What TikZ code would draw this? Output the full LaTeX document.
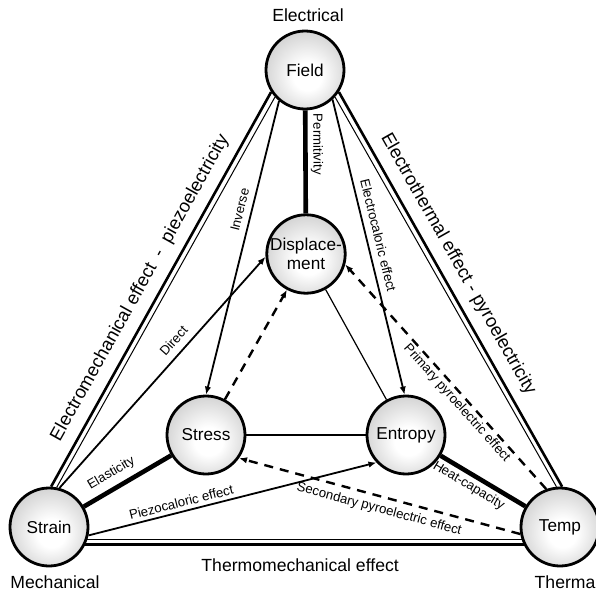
\documentclass[tikz,border=0pt]{standalone}
\usepackage{fontspec}
\setmainfont{Liberation Sans}
\usetikzlibrary{arrows.meta,positioning}
\pgfdeclareradialshading{sphere}{\pgfpoint{2bp}{-5bp}}{color(0bp)=(white);
  color(9bp)=(white); color(50bp)=(black!38)}

\begin{document}
\begin{tikzpicture}[x=0.5pt, y=-0.5pt, >={Latex[length=4pt,width=3.2pt]},
  var/.style={circle, draw, line width=1.4pt, minimum size=39pt, inner sep=0pt,
    shade, shading=sphere, align=center,
    font=\fontsize{8.6}{9.6}\selectfont},
  region/.style={font=\fontsize{8.8}{10}\selectfont, inner sep=1pt},
  rimthick/.style={line width=1.3pt},
  rimthin/.style={line width=0.5pt},
  strong/.style={line width=2.3pt},
  weak/.style={line width=0.6pt},
  link/.style={->, line width=0.9pt},
  pyro/.style={->, line width=1.2pt, dash pattern=on 4.5pt off 3.5pt},
  effect/.style={font=\fontsize{9.2}{11}\selectfont, sloped},
  lbl/.style={font=\fontsize{6.6}{8}\selectfont, sloped, inner sep=1.5pt}]
  \useasboundingbox (0,0) rectangle (596,595);
  \clip (0,0) rectangle (596,595);
  % state variables
  \node[var] (Field) at (305,70) {Field};
  \node[var] (Disp) at (306,254) {Displace-\\ment};
  \node[var] (Stress) at (206,435) {Stress};
  \node[var] (Entropy) at (406,435) {Entropy};
  \node[var] (Strain) at (49,527) {Strain};
  \node[var] (Temp) at (560,527) {Temp};
  \node[region, above=3pt of Field, xshift=1.5pt] (elec) {Electrical};
  \node[region, below=3pt of Strain, xshift=3pt] (mech) {Mechanical};
  \node[region, below=3pt of Temp, xshift=3.5pt] (therm) {Thermal};
  % outer triangle: thick outside, thin inside
  \draw[rimthick] (Strain.87) -- node[effect, above=1.2pt, pos=0.48] (emtext)
    {Electromechanical effect\ \ -\ \ piezoelectricity} (Field.213);
  \draw[rimthin] (Strain.79) -- (Field.222);
  \draw[rimthick] (Field.327) -- node[effect, above=1.2pt, pos=0.46] (ettext)
    {Electrothermal effect - pyroelectricity} (Temp.87);
  \draw[rimthin] (Field.318) -- (Temp.95);
  \draw[rimthin] (Strain.342) -- (Temp.198);
  \draw[rimthick] (Strain.334) -- node[region, below=5.5pt, pos=0.49] (tmtext)
    {Thermomechanical effect} (Temp.206);
  % principal effects
  \draw[strong] (Field) -- node[lbl, above, pos=0.33] (permtext) {Permitivity} (Disp);
  \draw[strong] (Strain) -- node[lbl, above=1.6pt, pos=0.4] (elatext) {Elasticity} (Stress);
  \draw[strong] (Entropy) -- node[lbl, below, pos=0.4] (heattext) {Heat-capacity} (Temp);
  \draw[weak] (Stress) -- (Entropy);
  \draw[weak] (Disp) -- (Entropy);
  % coupled effects
  \draw[link] (Strain.75) -- node[lbl, above=2pt, pos=0.6] (dirtext) {Direct} (Disp.184);
  \draw[link] (Field.230) -- node[lbl, above=1.7pt, pos=0.38] (invtext) {Inverse} (Stress.90);
  \draw[link] (Field.313) -- node[lbl, above=1.8pt, pos=0.47] (ectext)
    {Electrocaloric effect} (Entropy.92);
  \draw[link] (Strain.348) -- node[lbl, above=0.3pt, pos=0.33] (pctext)
    {Piezocaloric effect} (Entropy.223);
  % pyroelectric paths
  \draw[pyro] (Temp.110) -- node[lbl, below=-0.5pt, pos=0.41] (primtext)
    {Primary pyroelectric effect} (Disp.345);
  \draw[pyro] (Temp.190) -- node[lbl, below=1.3pt, pos=0.49] (sectext)
    {Secondary pyroelectric effect} (Stress.325);
  \draw[pyro] (Stress.62) -- (Disp.242);
\end{tikzpicture}
\end{document}
